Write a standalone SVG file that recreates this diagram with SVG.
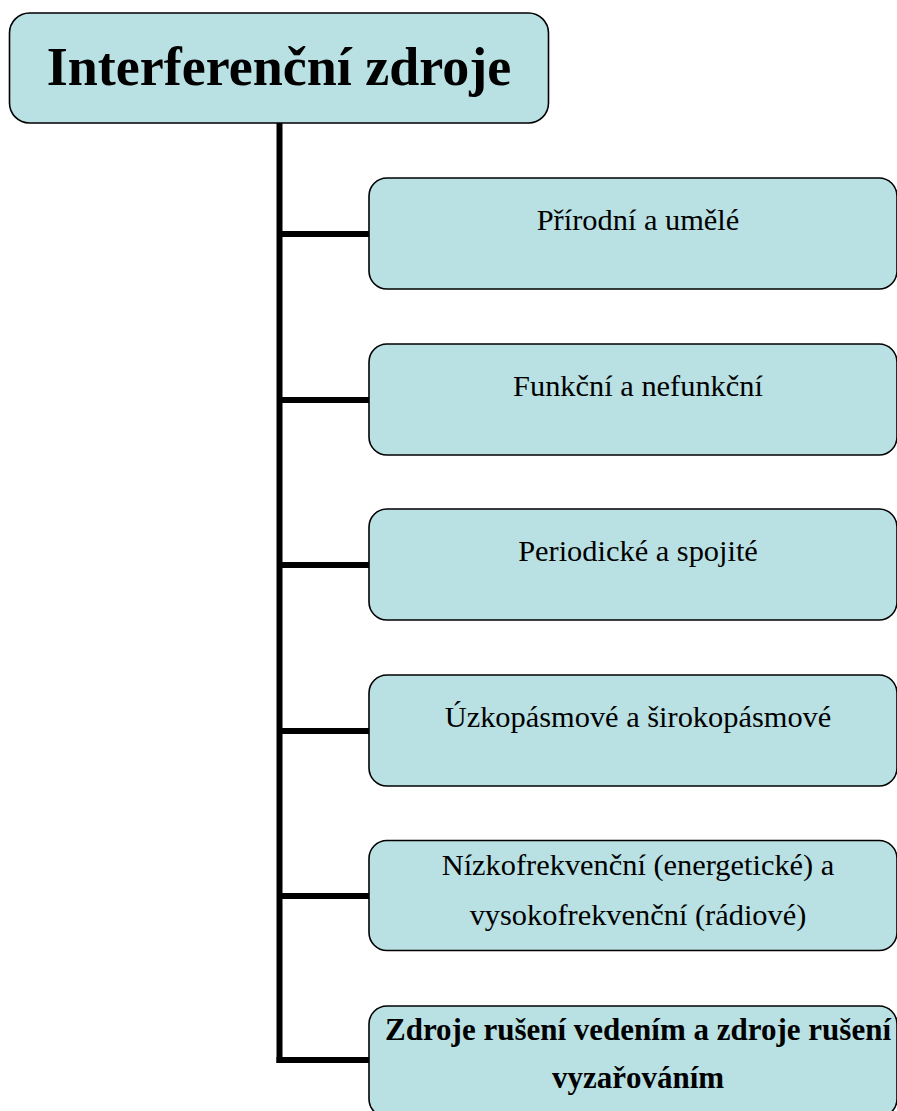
<svg xmlns="http://www.w3.org/2000/svg" width="897" height="1111" viewBox="0 0 897 1111">
<style>
.box{fill:#b9e0e3;stroke:#000;stroke-width:1.6}
.t{font-family:"Liberation Serif","Times New Roman",serif;font-size:30.4px;fill:#000;text-anchor:middle}
.b{font-weight:bold;font-size:31px}
.title{font-family:"Liberation Serif","Times New Roman",serif;font-size:54px;font-weight:bold;fill:#000;text-anchor:middle}
.c{stroke:#000;stroke-width:6;fill:none}
</style>
<rect width="897" height="1111" fill="#fff"/>
<g id="connectors">
<path class="c" d="M279.5 123 V1063"/>
<path class="c" d="M279.5 234 H369"/>
<path class="c" d="M279.5 400 H369"/>
<path class="c" d="M279.5 565 H369"/>
<path class="c" d="M279.5 731 H369"/>
<path class="c" d="M279.5 896 H369"/>
<path class="c" d="M276.5 1060 H369"/>
</g>
<g id="root">
<rect class="box" x="9.5" y="13" width="539" height="110" rx="20"/>
<text class="title" x="279" y="85">Interferenční zdroje</text>
</g>
<g id="n1">
<rect class="box" x="369" y="178" width="528" height="111" rx="18"/>
<text class="t" x="638" y="230">Přírodní a umělé</text>
</g>
<g id="n2">
<rect class="box" x="369" y="344" width="528" height="111" rx="18"/>
<text class="t" x="638" y="396">Funkční a nefunkční</text>
</g>
<g id="n3">
<rect class="box" x="369" y="509" width="528" height="111" rx="18"/>
<text class="t" x="638" y="561">Periodické a spojité</text>
</g>
<g id="n4">
<rect class="box" x="369" y="675" width="528" height="111" rx="18"/>
<text class="t" x="638" y="727">Úzkopásmové a širokopásmové</text>
</g>
<g id="n5">
<rect class="box" x="369" y="840.5" width="528" height="110" rx="18"/>
<text class="t" x="638" y="875">Nízkofrekvenční (energetické) a</text>
<text class="t" x="638" y="925">vysokofrekvenční (rádiové)</text>
</g>
<g id="n6">
<rect class="box" x="369" y="1006" width="528" height="111" rx="18"/>
<text class="t b" x="638" y="1040">Zdroje rušení vedením a zdroje rušení</text>
<text class="t b" x="638" y="1088">vyzařováním</text>
</g>
</svg>
